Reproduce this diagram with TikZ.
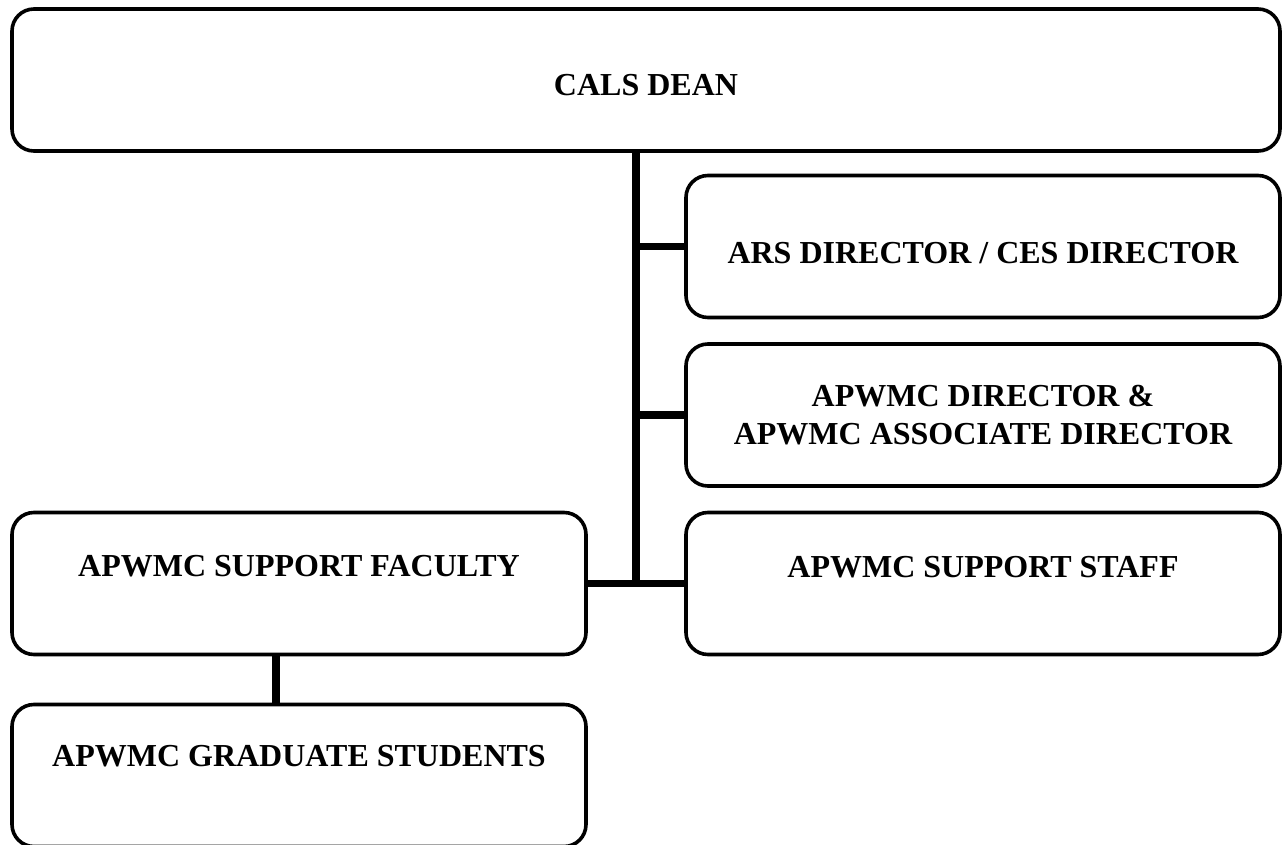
\documentclass[tikz,border=0pt]{standalone}
\usepackage{fontspec}
\setmainfont{Liberation Serif}
\begin{document}
\begin{tikzpicture}[x=.5pt,y=-.5pt,line join=round,
  font=\fontsize{16}{19}\selectfont\bfseries,
  box/.style={draw,line width=1.8pt,rounded corners=11pt,align=center,
    inner sep=0pt,minimum height=71pt},
  wide/.style={box,minimum width=297pt},
  narrow/.style={box,minimum width=287pt},
  link/.style={line width=3.8pt}]
  \useasboundingbox (0,0) rectangle (1286,845);
  \node[box,minimum width=634pt,text height=16pt,text depth=.4pt] (dean) at (646,80) {CALS DEAN};
  \node[wide,text height=17pt,text depth=.4pt] (ars) at (983,246.5) {ARS DIRECTOR / CES DIRECTOR};
  \node[wide] (dir) at (983,415) {APWMC DIRECTOR \&\\APWMC ASSOCIATE DIRECTOR};
  \node[wide,text height=11pt,text depth=17.4pt] (staff) at (983,583.5) {APWMC SUPPORT STAFF};
  \node[narrow,text height=11pt,text depth=18.4pt] (fac) at (299,583.5) {APWMC SUPPORT FACULTY};
  \node[narrow,text height=11pt,text depth=20.4pt] (grad) at (299,775.5) {APWMC GRADUATE STUDENTS};
  \coordinate (trunk) at ([xshift=-5pt]dean.south);
  \draw[link] (trunk) -- (trunk |- staff.west);
  \foreach \n in {ars,dir}
    \draw[link] (trunk |- \n.west) -- (\n.west);
  \draw[link] (fac.east) -- (staff.west);
  \draw[link] ([xshift=-11.5pt]fac.south) -- ([xshift=-11.5pt]grad.north);
\end{tikzpicture}
\end{document}
